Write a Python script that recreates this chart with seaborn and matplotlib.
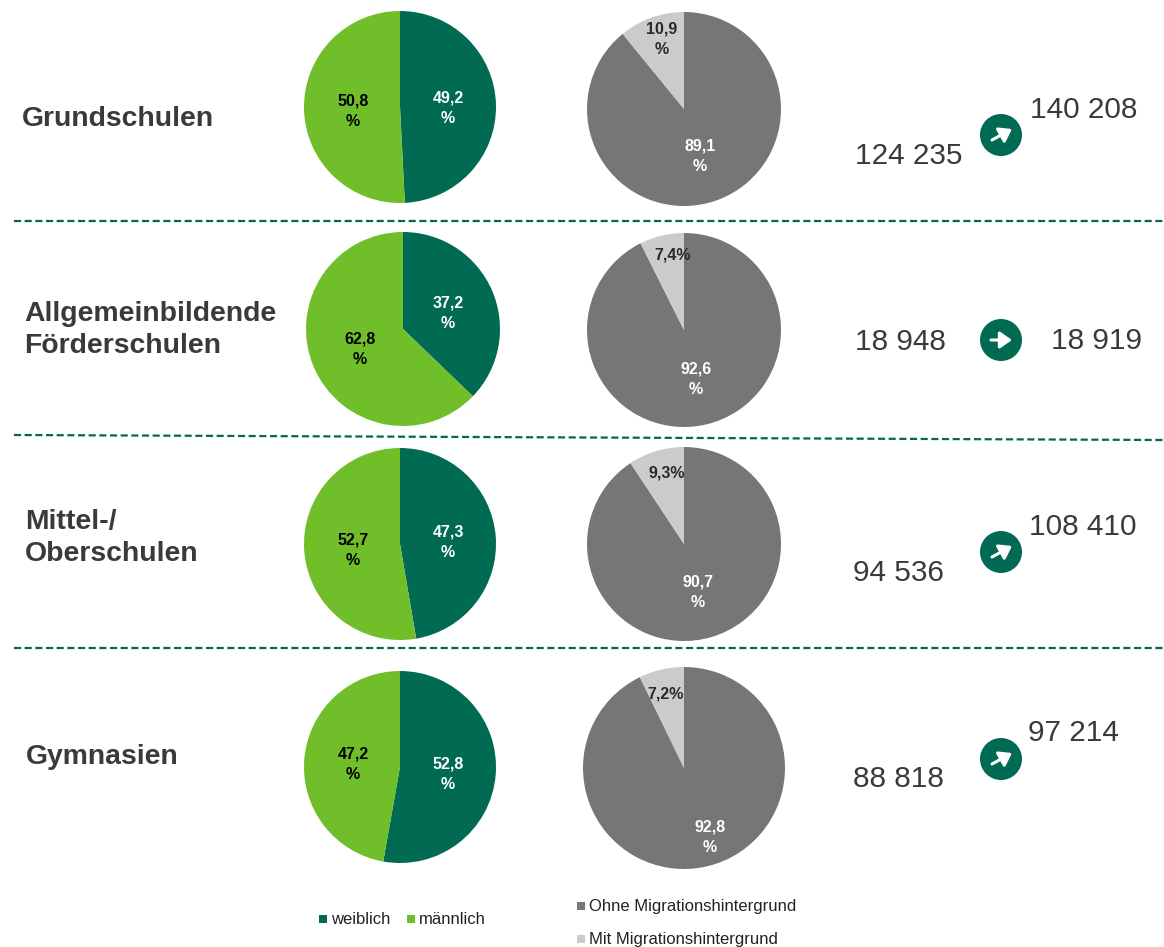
import matplotlib
matplotlib.use("Agg")
import matplotlib.pyplot as plt
from matplotlib.patches import Circle, Rectangle
import seaborn as sns

schools = ["Grundschulen", "Allgemeinbildende\nFörderschulen", "Mittel-/\nOberschulen", "Gymnasien"]
weiblich = [49.2, 37.2, 47.3, 52.8]
maennlich = [50.8, 62.8, 52.7, 47.2]
ohne = [89.1, 92.6, 90.7, 92.8]
mit = [10.9, 7.4, 9.3, 7.2]
count_from = ["124 235", "18 948", "94 536", "88 818"]
count_to = ["140 208", "18 919", "108 410", "97 214"]
mit_labels = ["10,9\n%", "7,4%", "9,3%", "7,2%"]

sns.set_theme(style="white")
plt.rcParams["font.family"] = ["Liberation Sans", "DejaVu Sans"]

DARK = "#006a52"
LIGHT = "#6fbe2a"
GREY = "#757678"
PALE = "#cbcbcb"
TEXT = "#3a3a3a"
W, H = 1164, 947

fig = plt.figure(figsize=(W / 100, H / 100), dpi=100)


def pie(cx, cy, r, vals, colors):
    ax = fig.add_axes([(cx - r) / W, 1 - (cy + r) / H, 2 * r / W, 2 * r / H])
    ax.pie(vals, colors=colors, startangle=90, counterclock=False, radius=1,
           wedgeprops=dict(linewidth=0, edgecolor="none"))
    ax.set_xlim(-1, 1)
    ax.set_ylim(-1, 1)


def comma(v):
    return f"{v:.1f}".replace(".", ",") + "\n%"


gender_pos = [(400, 107, 96), (403, 329, 97), (400, 544, 96), (400, 767, 96)]
mig_pos = [(684, 109, 97), (684, 330, 97), (684, 544, 97), (684, 768, 101)]
for i in range(4):
    pie(*gender_pos[i], [weiblich[i], maennlich[i]], [DARK, LIGHT])
    pie(*mig_pos[i], [ohne[i], mit[i]], [GREY, PALE])

# overlay for text, on top of the pies
ov = fig.add_axes([0, 0, 1, 1])
ov.set_xlim(0, W)
ov.set_ylim(H, 0)
ov.axis("off")
ov.patch.set_alpha(0)

title_pos = [(22, 119), (24, 330), (25, 538), (26, 757)]
for s, (x, y) in zip(schools, title_pos):
    ov.text(x, y, s, fontsize=20.4, fontweight="bold", color=TEXT, ha="left", va="center", linespacing=1.32)

lab = dict(fontsize=11.5, fontweight="bold", ha="center", va="center", linespacing=1.5)
w_pos = [(448, 108), (448, 313), (448, 542), (448, 774)]
m_pos = [(353, 111), (360, 349), (353, 550), (353, 764)]
o_pos = [(700, 156), (696, 379), (698, 592), (710, 837)]
t_pos = [(662, 39), (673, 255), (667, 473), (666, 694)]
for i in range(4):
    ov.text(*w_pos[i], comma(weiblich[i]), color="white", **lab)
    ov.text(*m_pos[i], comma(maennlich[i]), color="black", **lab)
    ov.text(*o_pos[i], comma(ohne[i]), color="white", **lab)
    ov.text(*t_pos[i], mit_labels[i], color="#2a2a2a", **lab)

num = dict(fontsize=21.4, color=TEXT, ha="left", va="center")
from_pos = [(855, 156), (855, 342), (853, 573), (853, 779)]
to_pos = [(1030, 110), (1051, 341), (1029, 527), (1028, 733)]
for i in range(4):
    ov.text(*from_pos[i], count_from[i], **num)
    ov.text(*to_pos[i], count_to[i], **num)

arrow_y = [135, 340, 552, 759]
for i, y in enumerate(arrow_y):
    ov.add_patch(Circle((1001, y), 21, color=DARK, lw=0))
    if i == 1:
        start, end = (991, y), (1012, y)
    else:
        start, end = (992, y + 5), (1012, y - 6)
    ov.annotate("", xy=end, xytext=start,
                arrowprops=dict(arrowstyle="-|>,head_width=0.42,head_length=0.6", color="white", lw=2.2,
                                shrinkA=0, shrinkB=0))

line = dict(color=DARK, lw=1.6, dashes=(3.2, 1.6))
ov.plot([14, 1164], [221, 221], **line)
ov.plot([14, 1164], [435, 440], **line)
ov.plot([14, 1164], [648, 648], **line)

# legends
leg = dict(fontsize=12, color="#222222", ha="left", va="center")
for x, y, c, s in [(319, 919, DARK, "weiblich"), (407, 919, LIGHT, "männlich"),
                   (577, 906, GREY, "Ohne Migrationshintergrund"),
                   (577, 939, PALE, "Mit Migrationshintergrund")]:
    ov.add_patch(Rectangle((x, y - 4), 8, 8, color=c, lw=0))
    ov.text(x + 12, y, s, **leg)

fig.savefig("out.png", dpi=100)
